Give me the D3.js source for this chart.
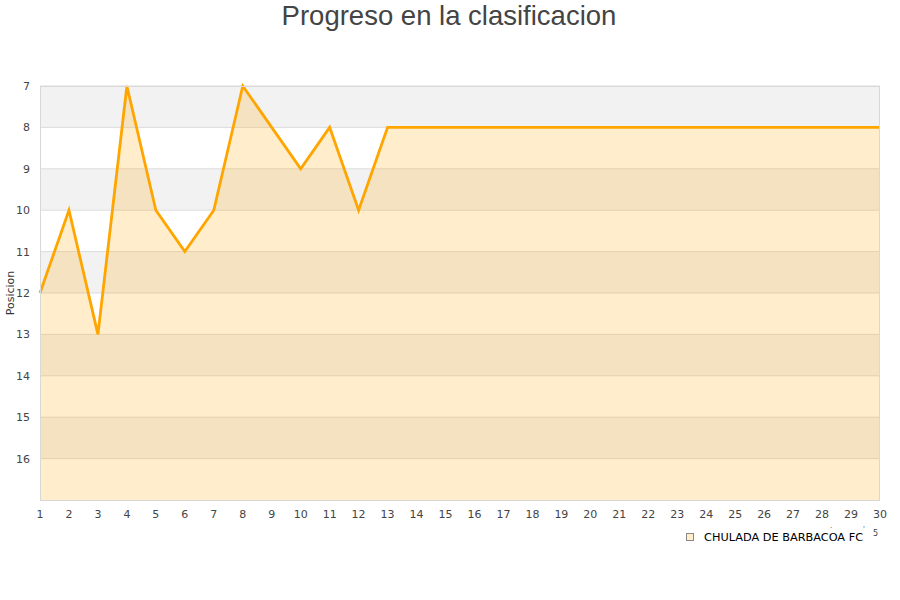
<!DOCTYPE html>
<html><head><meta charset="utf-8">
<script src="https://cdn.jsdelivr.net/npm/d3@7"></script>
<style>body{margin:0;background:#fff}svg{display:block}</style>
</head><body><svg id="c" width="900" height="600"></svg>
<script>
const jornadas = d3.range(1, 31);
const posiciones = [12,10,13,7,10,11,10,7,8,9,8,10,8,8,8,8,8,8,8,8,8,8,8,8,8,8,8,8,8,8];
const yTicks = [7,8,9,10,11,12,13,14,15,16];
const equipo = "CHULADA DE BARBACOA FC";
const titulo = "Progreso en la clasificacion";
const yLabel = "Posicion";

const svg = d3.select("#c");
const L = 40, R = 880, T = 86, B = 500;
const x = d3.scaleLinear().domain([1, 30]).range([L, R]);
const y = d3.scaleLinear().domain([7, 17]).range([T, B]);

// background bands
svg.append("g").selectAll("rect").data(d3.range(7, 17)).join("rect")
  .attr("x", L).attr("width", R - L)
  .attr("y", d => y(d)).attr("height", d => y(d + 1) - y(d))
  .attr("fill", d => (d % 2 === 1) ? "#f2f2f2" : "#ffffff");
// grid lines
svg.append("g").selectAll("line").data(yTicks).join("line")
  .attr("x1", L).attr("x2", R).attr("y1", d => y(d)).attr("y2", d => y(d))
  .attr("stroke", "#dcdcdc").attr("stroke-width", 1);

const pts = jornadas.map((j, i) => [j, posiciones[i]]);
svg.append("path").datum(pts)
  .attr("d", d3.area().x(d => x(d[0])).y0(B).y1(d => y(d[1])))
  .attr("fill", "#ffa500").attr("fill-opacity", 0.2);
svg.append("path").datum(pts)
  .attr("d", d3.line().x(d => x(d[0])).y(d => y(d[1])))
  .attr("fill", "none").attr("stroke", "#ffa500").attr("stroke-width", 2.8).attr("stroke-linejoin", "miter");

// border
svg.append("rect").attr("x", L + 0.5).attr("y", T + 0.5).attr("width", R - L - 1).attr("height", B - T)
  .attr("fill", "none").attr("stroke", "#d8d8d8");

// y ticks
svg.append("g").selectAll("text").data(yTicks).join("text")
  .attr("x", 30).attr("y", d => y(d) + 4).attr("text-anchor", "end")
  .attr("font-family", "DejaVu Sans").attr("font-size", 11).attr("fill", "#444")
  .text(d => d);
// x ticks
svg.append("g").selectAll("text").data(jornadas).join("text")
  .attr("x", d => x(d)).attr("y", 518).attr("text-anchor", "middle")
  .attr("font-family", "DejaVu Sans").attr("font-size", 11).attr("fill", "#444")
  .text(d => d);

svg.append("text").attr("x", 449).attr("y", 25).attr("text-anchor", "middle")
  .attr("font-family", "Liberation Sans").attr("font-size", 27.5).attr("fill", "#444").text(titulo);
svg.append("text").attr("transform", "translate(14,293) rotate(-90)").attr("text-anchor", "middle")
  .attr("font-family", "DejaVu Sans").attr("font-size", 11).attr("fill", "#333").text(yLabel);

// legend
svg.append("rect").attr("x", 686.5).attr("y", 533.5).attr("width", 7).attr("height", 7)
  .attr("fill", "#ffedcc").attr("stroke", "#888");
svg.append("text").attr("x", 704).attr("y", 541)
  .attr("font-family", "DejaVu Sans").attr("font-size", 11.3).attr("fill", "#000").text(equipo);
svg.append("text").attr("x", 873).attr("y", 536)
  .attr("font-family", "DejaVu Sans").attr("font-size", 8).attr("fill", "#444").text("5");
svg.append("text").attr("x", 830).attr("y", 528)
  .attr("font-family", "DejaVu Sans").attr("font-size", 7).attr("fill", "#444").text(".");
svg.append("text").attr("x", 863).attr("y", 531)
  .attr("font-family", "DejaVu Sans").attr("font-size", 7).attr("fill", "#444").text("'");
</script></body></html>
